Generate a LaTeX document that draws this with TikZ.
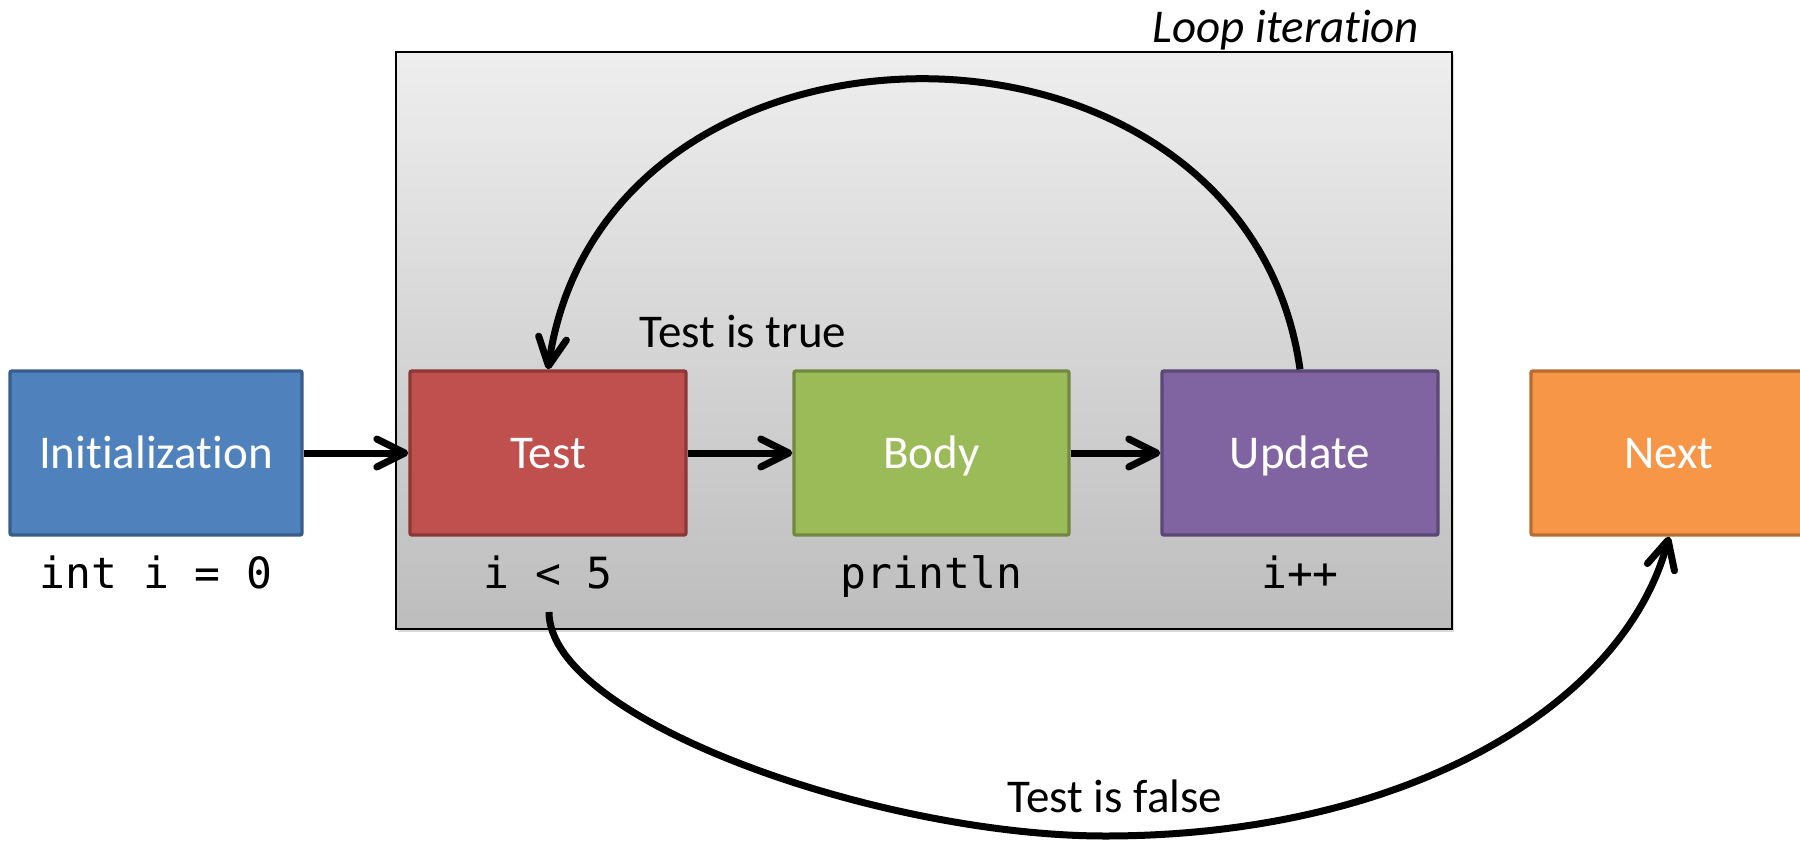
\documentclass[tikz,border=0pt]{standalone}
\usepackage{fontspec}
\setmainfont{Carlito}[Ligatures=NoCommon]
\newfontfamily\codefont{DejaVu Sans Mono}
\usetikzlibrary{arrows.meta,shadows}
\definecolor{initfill}{HTML}{4F81BD}
\definecolor{initdraw}{HTML}{385D8A}
\definecolor{testfill}{HTML}{C0504D}
\definecolor{testdraw}{HTML}{8C3836}
\definecolor{bodyfill}{HTML}{9BBB59}
\definecolor{bodydraw}{HTML}{71893F}
\definecolor{updfill}{HTML}{8064A2}
\definecolor{upddraw}{HTML}{5C4776}
\definecolor{nextfill}{HTML}{F79646}
\definecolor{nextdraw}{HTML}{B66D31}
\definecolor{loopTop}{HTML}{EEEEEE}
\definecolor{loopBottom}{HTML}{BDBDBD}
\begin{document}
\begin{tikzpicture}[x=0.5pt,y=-0.5pt,
  container/.style={draw=black, line width=1.1pt, top color=loopTop, bottom color=loopBottom,
    minimum width=528pt, minimum height=288.5pt, inner sep=0pt,
    drop shadow={shadow xshift=1pt, shadow yshift=-1.5pt, opacity=0.3}},
  box/.style={draw, line width=1.7pt, rounded corners=1pt, minimum height=82pt, inner sep=0pt,
    text=white, font=\fontsize{23.5pt}{28pt}\selectfont, text height=15pt, text depth=0pt},
  code/.style={font=\codefont\fontsize{21.5pt}{26pt}\selectfont, anchor=base, inner sep=0pt},
  lbl/.style={font=\fontsize{23.5pt}{28pt}\selectfont, anchor=base, inner sep=0pt},
  flow/.style={line width=3.5pt, -{Straight Barb[length=14pt,width=14pt,round]}},
]
\useasboundingbox (0,0) rectangle (1800,841);

\node[container] (loop) at (924,340.5) {};
\node[lbl, font=\fontsize{23.5pt}{28pt}\selectfont\itshape] (looplbl) at (1286,42) {Loop iteration};

\node[box, fill=initfill, draw=initdraw, minimum width=146pt] (init) at (156,453) {Initialization};
\node[box, fill=testfill, draw=testdraw, minimum width=138pt] (test) at (548,453) {Test};
\node[box, fill=bodyfill, draw=bodydraw, minimum width=137.5pt] (body) at (931.5,453) {Body};
\node[box, fill=updfill, draw=upddraw, minimum width=138pt] (update) at (1300,453) {Update};
\node[box, fill=nextfill, draw=nextdraw, minimum width=138pt] (next) at (1669,453) {Next};

\node[code] (initcode) at (156,588) {int i = 0};
\node[code] (testcode) at (548,588) {i < 5};
\node[code] (bodycode) at (931.5,588) {println};
\node[code] (updcode) at (1300,588) {i++};

\node[lbl] (truelbl) at (743,347) {Test is true};
\node[lbl] (falselbl) at (1115,812) {Test is false};

\draw[flow] (init) -- (test);
\draw[flow] (test) -- (body);
\draw[flow] (body) -- (update);
\draw[flow] (update.north) .. controls (1245,-17) and (604,-17) .. (test.north);
\coordinate (falsestart) at (549,612);
\draw[flow] (falsestart) .. controls (549,720) and (880,836) .. (1105,836)
  .. controls (1405,836) and (1624,706) .. (next.south);
\end{tikzpicture}
\end{document}
